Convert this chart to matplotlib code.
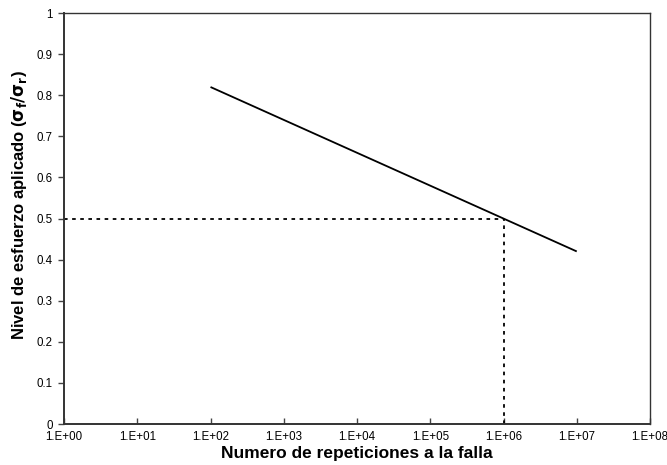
import matplotlib
matplotlib.use("Agg")
import matplotlib.pyplot as plt
from matplotlib.ticker import FixedLocator, NullLocator

plt.rcParams['font.family'] = ['Liberation Sans', 'DejaVu Sans']

# S-N curve: stress level vs. cycles to failure
cycles = [1e2, 1e7]
stress = [0.82, 0.42]

# reference point marked with dashed guides
ref_cycles = 1e6
ref_stress = 0.50
x_min, x_max = 1e0, 1e8

x_ticks = [1e0, 1e1, 1e2, 1e3, 1e4, 1e5, 1e6, 1e7, 1e8]
x_tick_labels = ['1.E+00', '1.E+01', '1.E+02', '1.E+03', '1.E+04',
                 '1.E+05', '1.E+06', '1.E+07', '1.E+08']
y_ticks = [0, 0.1, 0.2, 0.3, 0.4, 0.5, 0.6, 0.7, 0.8, 0.9, 1]
y_tick_labels = ['0', '0.1', '0.2', '0.3', '0.4', '0.5', '0.6', '0.7', '0.8', '0.9', '1']

fig = plt.figure(figsize=(6.67, 4.65), dpi=100)
ax = fig.add_axes([0.096, 0.088, 0.8785, 0.884])

ax.plot(cycles, stress, color='black', lw=1.3, solid_capstyle='butt')
ax.plot([x_min, ref_cycles], [ref_stress, ref_stress], color='black', lw=1.3,
        linestyle=(0, (2, 2.5)))
ax.plot([ref_cycles, ref_cycles], [0, ref_stress], color='black', lw=1.3,
        linestyle=(0, (2, 2.5)))

ax.set_xscale('log')
ax.set_xlim(x_min, x_max)
ax.set_ylim(0, 1)
ax.xaxis.set_major_locator(FixedLocator(x_ticks))
ax.xaxis.set_minor_locator(NullLocator())
ax.set_xticklabels(x_tick_labels)
ax.set_yticks(y_ticks)
ax.set_yticklabels(y_tick_labels)

ax.tick_params(axis='x', direction='in', length=4, width=1, labelsize=8.3, pad=5, color='#444444')
ax.tick_params(axis='y', direction='out', length=4, width=1, labelsize=8.3, pad=4, color='#444444')
for side in ['left', 'bottom']:
    ax.spines[side].set_linewidth(1.4)
    ax.spines[side].set_color('#333333')
for side in ['right', 'top']:
    ax.spines[side].set_linewidth(1.0)
    ax.spines[side].set_color('#333333')

ax.set_xlabel('Numero de repeticiones a la falla', fontsize=12.5, fontweight='bold', labelpad=2)
ax.set_ylabel(r'Nivel de esfuerzo aplicado ($\mathbf{\sigma_f/\sigma_r}$)', fontsize=12,
              fontweight='bold')
ax.yaxis.set_label_coords(-0.06, 0.533)

fig.savefig('out.png', dpi=100)
